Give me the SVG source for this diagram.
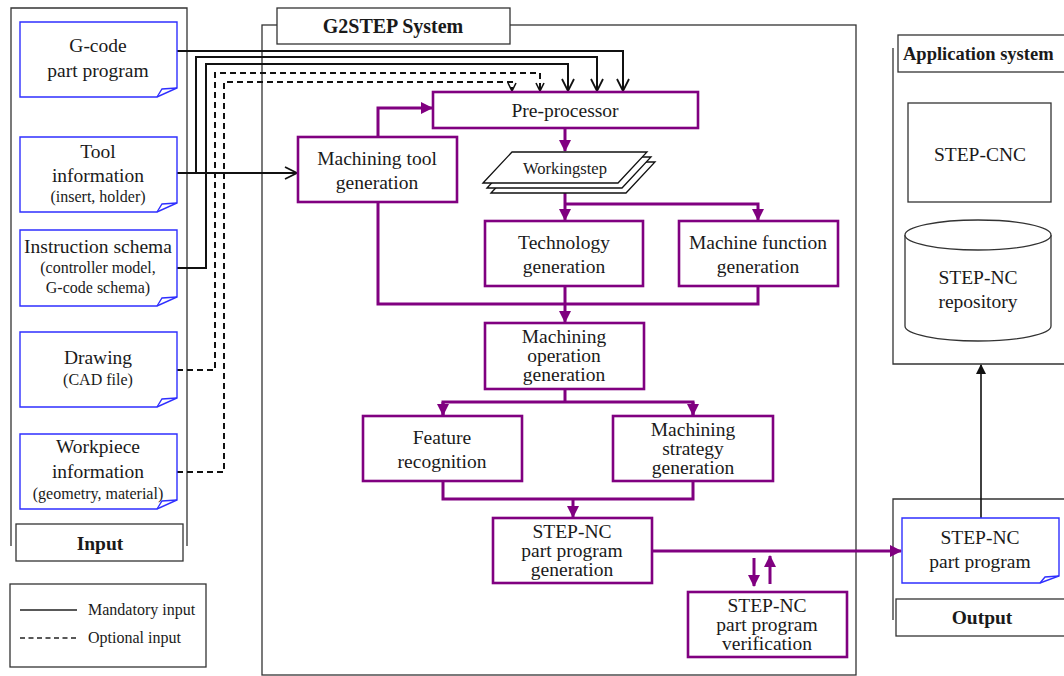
<svg xmlns="http://www.w3.org/2000/svg" width="1064" height="676" viewBox="0 0 1064 676">
<defs>
<style>
text{font-family:"Liberation Serif","Times New Roman",serif;fill:#1a1a1a;text-anchor:middle}
.t{font-size:19.5px}
.s{font-size:16px}
.b{font-size:19.5px;font-weight:bold}
.cont{fill:none;stroke:#333;stroke-width:1.3}
.lab{fill:#fff;stroke:#333;stroke-width:1.3}
.doc{fill:#fff;stroke:#2f2fff;stroke-width:1.4}
.fold{fill:none;stroke:#2f2fff;stroke-width:1.4}
.pb{fill:#fff;stroke:#800080;stroke-width:2.6}
.pc{fill:none;stroke:#800080;stroke-width:3}
.bc{fill:none;stroke:#111;stroke-width:2}
.dc{fill:none;stroke:#111;stroke-width:2;stroke-dasharray:6,4}
</style>
<marker id="pa" markerUnits="userSpaceOnUse" markerWidth="12" markerHeight="12" viewBox="0 0 12 12" refX="11" refY="6" orient="auto"><path d="M0,0 L12,6 L0,12 Z" fill="#800080"/></marker>
<marker id="ba" markerUnits="userSpaceOnUse" markerWidth="14" markerHeight="14" viewBox="0 0 14 14" refX="13" refY="7" orient="auto"><path d="M1,1 L13,7 L1,13" fill="none" stroke="#111" stroke-width="1.8"/></marker>
<marker id="da" markerUnits="userSpaceOnUse" markerWidth="10" markerHeight="10" viewBox="0 0 10 10" refX="9" refY="5" orient="auto"><path d="M1,1 L9,5 L1,9" fill="none" stroke="#111" stroke-width="1.6"/></marker>
<marker id="ka" markerUnits="userSpaceOnUse" markerWidth="10" markerHeight="10" viewBox="0 0 10 10" refX="9" refY="5" orient="auto"><path d="M0,0 L10,5 L0,10 Z" fill="#111"/></marker>
</defs>
<rect width="1064" height="676" fill="#fff"/>

<!-- containers -->
<g id="g2step-system">
<rect class="cont" x="262" y="25" width="594" height="650"/>
<rect class="lab" x="277" y="8" width="233" height="36"/>
<text class="b" x="393" y="33" style="font-size:20px">G2STEP System</text>
</g>

<g id="input">
<path class="cont" d="M11,546 V8 H187 V546"/>
</g>

<g id="application-system">
<path class="cont" d="M893,48 V364 H1070"/>
<rect class="lab" x="898" y="35" width="180" height="37"/>
<text class="b" x="903" y="60" style="text-anchor:start;font-size:18.5px">Application system</text>
</g>

<g id="output">
<path class="cont" d="M893,620 V499 H1070"/>
</g>

<!-- connectors -->
<g id="connectors">
<polyline class="bc" points="177,51 623,51 623,91" marker-end="url(#ba)"/>
<polyline class="bc" points="177,173 196,173 196,57 597,57 597,91" marker-end="url(#ba)"/>
<line class="bc" x1="196" y1="173" x2="297" y2="173" marker-end="url(#ba)"/>
<polyline class="bc" points="177,268 206,268 206,64 568,64 568,91" marker-end="url(#ba)"/>
<polyline class="dc" points="177,370 215,370 215,73 540,73 540,91" marker-end="url(#da)"/>
<polyline class="dc" points="177,472 224,472 224,82 512,82 512,91" marker-end="url(#da)"/>

<polyline class="pc" points="378,137 378,108 432,108" marker-end="url(#pa)"/>
<line class="pc" x1="565" y1="128" x2="565" y2="151" marker-end="url(#pa)"/>
<line class="pc" x1="565" y1="192" x2="565" y2="220" marker-end="url(#pa)"/>
<polyline class="pc" points="565,204 758,204 758,220" marker-end="url(#pa)"/>
<polyline class="pc" points="378,202 378,304 758,304 758,286"/>
<line class="pc" x1="565" y1="286" x2="565" y2="322" marker-end="url(#pa)"/>
<line class="pc" x1="565" y1="389" x2="565" y2="402"/>
<polyline class="pc" points="443,415 443,402 693,402 693,415"/>
<line class="pc" x1="443" y1="402" x2="443" y2="415" marker-end="url(#pa)"/>
<line class="pc" x1="693" y1="402" x2="693" y2="415" marker-end="url(#pa)"/>
<polyline class="pc" points="443,481 443,499 693,499 693,481"/>
<line class="pc" x1="573" y1="499" x2="573" y2="517" marker-end="url(#pa)"/>
<line class="pc" x1="652" y1="551" x2="901" y2="551" marker-end="url(#pa)"/>
<line class="pc" x1="754" y1="558" x2="754" y2="586" marker-end="url(#pa)"/>
<line class="pc" x1="770" y1="584" x2="770" y2="556" marker-end="url(#pa)"/>

<line x1="981" y1="518" x2="981" y2="365" stroke="#111" stroke-width="1.6" marker-end="url(#ka)"/>
</g>

<!-- input documents -->
<g id="gcode-part-program">
<path class="doc" d="M20,22 H177 V88 L157,97 H20 Z"/><path class="fold" d="M157,97 L162,89 L177,88"/>
<text class="t" x="98" y="52">G-code</text>
<text class="t" x="98" y="77">part program</text>
</g>
<g id="tool-information">
<path class="doc" d="M20,137 H177 V203 L157,212 H20 Z"/><path class="fold" d="M157,212 L162,204 L177,203"/>
<text class="t" x="98" y="158">Tool</text>
<text class="t" x="98" y="182">information</text>
<text class="s" x="98" y="202">(insert, holder)</text>
</g>
<g id="instruction-schema">
<path class="doc" d="M20,230 H177 V297 L157,306 H20 Z"/><path class="fold" d="M157,306 L162,298 L177,297"/>
<text class="t" x="98" y="253">Instruction schema</text>
<text class="s" x="98" y="273">(controller model,</text>
<text class="s" x="98" y="293">G-code schema)</text>
</g>
<g id="drawing">
<path class="doc" d="M20,332 H177 V398 L157,407 H20 Z"/><path class="fold" d="M157,407 L162,399 L177,398"/>
<text class="t" x="98" y="364">Drawing</text>
<text class="s" x="98" y="385">(CAD file)</text>
</g>
<g id="workpiece-information">
<path class="doc" d="M20,434 H177 V500 L157,509 H20 Z"/><path class="fold" d="M157,509 L162,501 L177,500"/>
<text class="t" x="98" y="453">Workpiece</text>
<text class="t" x="98" y="478">information</text>
<text class="s" x="98" y="499">(geometry, material)</text>
</g>
<g id="input-label">
<rect class="lab" x="16" y="524" width="167" height="37"/>
<text class="b" x="100" y="550">Input</text>
</g>

<g id="legend">
<rect class="cont" x="10" y="584" width="196" height="83"/>
<line x1="20" y1="610" x2="77" y2="610" stroke="#222" stroke-width="1.3"/>
<text class="s" x="88" y="615" style="text-anchor:start">Mandatory input</text>
<line x1="20" y1="638" x2="77" y2="638" stroke="#222" stroke-width="1.3" stroke-dasharray="5,3.5"/>
<text class="s" x="88" y="643" style="text-anchor:start">Optional input</text>
</g>

<!-- process nodes -->
<g id="pre-processor">
<rect class="pb" x="433" y="92" width="265" height="36"/>
<text class="t" x="565" y="117">Pre-processor</text>
</g>
<g id="machining-tool-generation">
<rect class="pb" x="298" y="137" width="159" height="65"/>
<text class="t" x="377" y="165">Machining tool</text>
<text class="t" x="377" y="189">generation</text>
</g>
<g id="workingstep">
<path d="M491,193 L520,162 L655,162 L626,193 Z" fill="#fff" stroke="#111" stroke-width="1.3"/>
<path d="M487,188 L516,157 L651,157 L622,188 Z" fill="#fff" stroke="#111" stroke-width="1.3"/>
<path d="M483,183 L512,152 L647,152 L618,183 Z" fill="#fff" stroke="#111" stroke-width="1.3"/>
<text x="565" y="174" style="font-size:16.5px">Workingstep</text>
</g>
<g id="technology-generation">
<rect class="pb" x="485" y="221" width="158" height="65"/>
<text class="t" x="564" y="249">Technology</text>
<text class="t" x="564" y="273">generation</text>
</g>
<g id="machine-function-generation">
<rect class="pb" x="679" y="221" width="159" height="65"/>
<text class="t" x="758" y="249">Machine function</text>
<text class="t" x="758" y="273">generation</text>
</g>
<g id="machining-operation-generation">
<rect class="pb" x="485" y="323" width="159" height="66"/>
<text class="t" x="564" y="343">Machining</text>
<text class="t" x="564" y="362">operation</text>
<text class="t" x="564" y="381">generation</text>
</g>
<g id="feature-recognition">
<rect class="pb" x="363" y="416" width="159" height="65"/>
<text class="t" x="442" y="444">Feature</text>
<text class="t" x="442" y="468">recognition</text>
</g>
<g id="machining-strategy-generation">
<rect class="pb" x="613" y="416" width="160" height="65"/>
<text class="t" x="693" y="436">Machining</text>
<text class="t" x="693" y="455">strategy</text>
<text class="t" x="693" y="474">generation</text>
</g>
<g id="stepnc-generation">
<rect class="pb" x="493" y="518" width="159" height="65"/>
<text class="t" x="572" y="538">STEP-NC</text>
<text class="t" x="572" y="557">part program</text>
<text class="t" x="572" y="576">generation</text>
</g>
<g id="stepnc-verification">
<rect class="pb" x="688" y="592" width="159" height="65"/>
<text class="t" x="767" y="612">STEP-NC</text>
<text class="t" x="767" y="631">part program</text>
<text class="t" x="767" y="650">verification</text>
</g>

<!-- application system nodes -->
<g id="step-cnc">
<rect x="908" y="103" width="143" height="99" fill="#fff" stroke="#333" stroke-width="1.3"/>
<text class="t" x="980" y="161">STEP-CNC</text>
</g>
<g id="stepnc-repository">
<path d="M905,235 V326 A73,15 0 0 0 1051,326 V235" fill="#fff" stroke="#333" stroke-width="1.3"/>
<ellipse cx="978" cy="235" rx="73" ry="15" fill="#fff" stroke="#333" stroke-width="1.3"/>
<text class="t" x="978" y="284">STEP-NC</text>
<text class="t" x="978" y="308">repository</text>
</g>

<!-- output nodes -->
<g id="stepnc-part-program">
<path class="doc" d="M902,518 H1059 V576 L1040,583 H902 Z"/><path class="fold" d="M1040,583 L1045,577 L1059,576"/>
<text class="t" x="980" y="544">STEP-NC</text>
<text class="t" x="980" y="568">part program</text>
</g>
<g id="output-label">
<rect class="lab" x="896" y="599" width="180" height="37"/>
<text class="b" x="982" y="624">Output</text>
</g>
</svg>
